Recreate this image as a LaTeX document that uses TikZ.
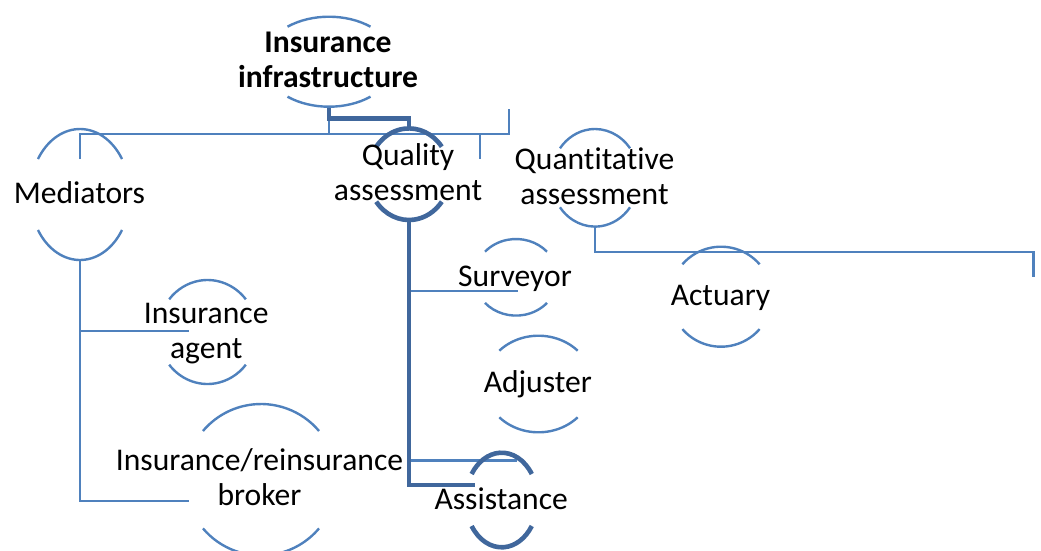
\documentclass[tikz,border=0pt]{standalone}
\usepackage{fontspec}
\setmainfont{Carlito}[Ligatures=NoCommon]
\usetikzlibrary{shapes.geometric,calc}
\definecolor{ringblue}{HTML}{4F81BD}
\definecolor{ringdark}{HTML}{40679C}
\tikzset{
  lbl/.style={font=\fontsize{31.6}{35}\selectfont, align=center, inner sep=0pt, anchor=base},
  ring/.style={ellipse, inner sep=0pt, outer sep=0pt, draw=none},
  conn/.style={draw=ringblue, line width=2.4pt},
  heavy/.style={draw=ringdark, line width=4.6pt},
}
% top and bottom arcs of a ring node: [style]{node}{x radius}{y radius}{half gap}
\newcommand\ringarcs[5][conn]{%
  \pgfmathsetmacro\ringang{asin(#5/#4)}%
  \draw[#1] ($(#2.center)+({\ringang}:#3pt and #4pt)$)
    arc[start angle=\ringang, end angle={180-\ringang}, x radius=#3pt, y radius=#4pt];
  \draw[#1] ($(#2.center)+({180+\ringang}:#3pt and #4pt)$)
    arc[start angle={180+\ringang}, end angle={360-\ringang}, x radius=#3pt, y radius=#4pt];
}
\begin{document}
\begin{tikzpicture}[x=1pt, y=-1pt]
\useasboundingbox (0,0) rectangle (1041,550);

% ring outlines (invisible nodes used as anchors)
\node[ring, minimum width=132pt,   minimum height=90pt]    (infra)  at (329,61.7)   {};
\node[ring, minimum width=100pt,   minimum height=131pt]   (med)    at (80,194.5)   {};
\node[ring, minimum width=82pt,    minimum height=91.6pt]  (qual)   at (409,174.2)  {};
\node[ring, minimum width=88pt,    minimum height=97.6pt]  (quant)  at (595,177.8)  {};
\node[ring, minimum width=83.4pt,  minimum height=76.6pt]  (surv)   at (516,277.3)  {};
\node[ring, minimum width=101.4pt, minimum height=100pt]   (act)    at (721,296.7)  {};
\node[ring, minimum width=98.6pt,  minimum height=104pt]   (agent)  at (207.5,332)  {};
\node[ring, minimum width=151.6pt, minimum height=151.4pt] (broker) at (261,479.7)  {};
\node[ring, minimum width=108.2pt, minimum height=96.6pt]  (adj)    at (538.5,384)  {};
\node[ring, minimum width=72pt,    minimum height=94.6pt]  (assist) at (501.7,500)  {};

% free ends of the connectors
\coordinate (busR)      at (509,134);
\coordinate (busEnd)    at (509,109);
\coordinate (stubTop)   at (480,134);
\coordinate (stubEnd)   at (480,159);
\coordinate (agentTie)  at (189.3,330.7);
\coordinate (brokerTie) at (189.3,500.7);
\coordinate (survTie)   at (518.3,290.7);
\coordinate (lowTie)    at (517,460.5);
\coordinate (assistTie) at (475,485);
\coordinate (actCorner) at (1033.5,252);
\coordinate (actEnd)    at (1033.5,277);

% connectors
\draw[conn] ($(med.center)+(0,-35.5)$) |- (busR) -- (busEnd);
\draw[conn] (infra.south) -- (infra.south |- busR);
\draw[conn] (stubTop) -- (stubEnd);
\draw[conn] (med.south) -- (med.south |- brokerTie) -- (brokerTie);
\draw[conn] (med.south |- agentTie) -- (agentTie);
\draw[conn] (qual.south |- survTie) -- (survTie);
\draw[conn] (qual.south |- lowTie) -- (lowTie);
\draw[conn] (quant.south) |- (actCorner) -- (actEnd);
\draw[heavy] (infra.south) |- ($(qual.north)+(0,-10)$) -- (qual.north);
\draw[heavy] (qual.south) |- (assistTie);

% ring arcs
\ringarcs{infra}{66}{45}{35}
\ringarcs{med}{50}{65.5}{35.5}
\ringarcs[heavy]{qual}{41}{45.8}{27.5}
\ringarcs{quant}{44}{48.8}{29.5}
\ringarcs{surv}{41.7}{38.3}{25.6}
\ringarcs{act}{50.7}{50}{32.4}
\ringarcs{agent}{49.3}{52}{32.7}
\ringarcs{broker}{75.8}{75.7}{48.7}
\ringarcs{adj}{54.1}{48.3}{33.3}
\ringarcs[heavy]{assist}{36}{47.3}{26}

% labels (base anchor sits on the last line)
\node[lbl, font=\fontsize{31.6}{35}\selectfont\bfseries] (infraT) at (328,87.3) {Insurance\\infrastructure};
\node[lbl] (medT)    at (79.5,203.3)  {Mediators};
\node[lbl] (qualT)   at (408,200.5)   {Quality\\assessment};
\node[lbl] (quantT)  at (594.5,204)   {Quantitative\\assessment};
\node[lbl] (survT)   at (515,286)     {Surveyor};
\node[lbl] (actT)    at (720.5,305)   {Actuary};
\node[lbl] (agentT)  at (206.2,358.3) {Insurance\\agent};
\node[lbl] (brokerT) at (259.5,505)   {Insurance/reinsurance\\broker};
\node[lbl] (adjT)    at (537.8,392.3) {Adjuster};
\node[lbl] (assistT) at (501.2,509.3) {Assistance};
\end{tikzpicture}
\end{document}
